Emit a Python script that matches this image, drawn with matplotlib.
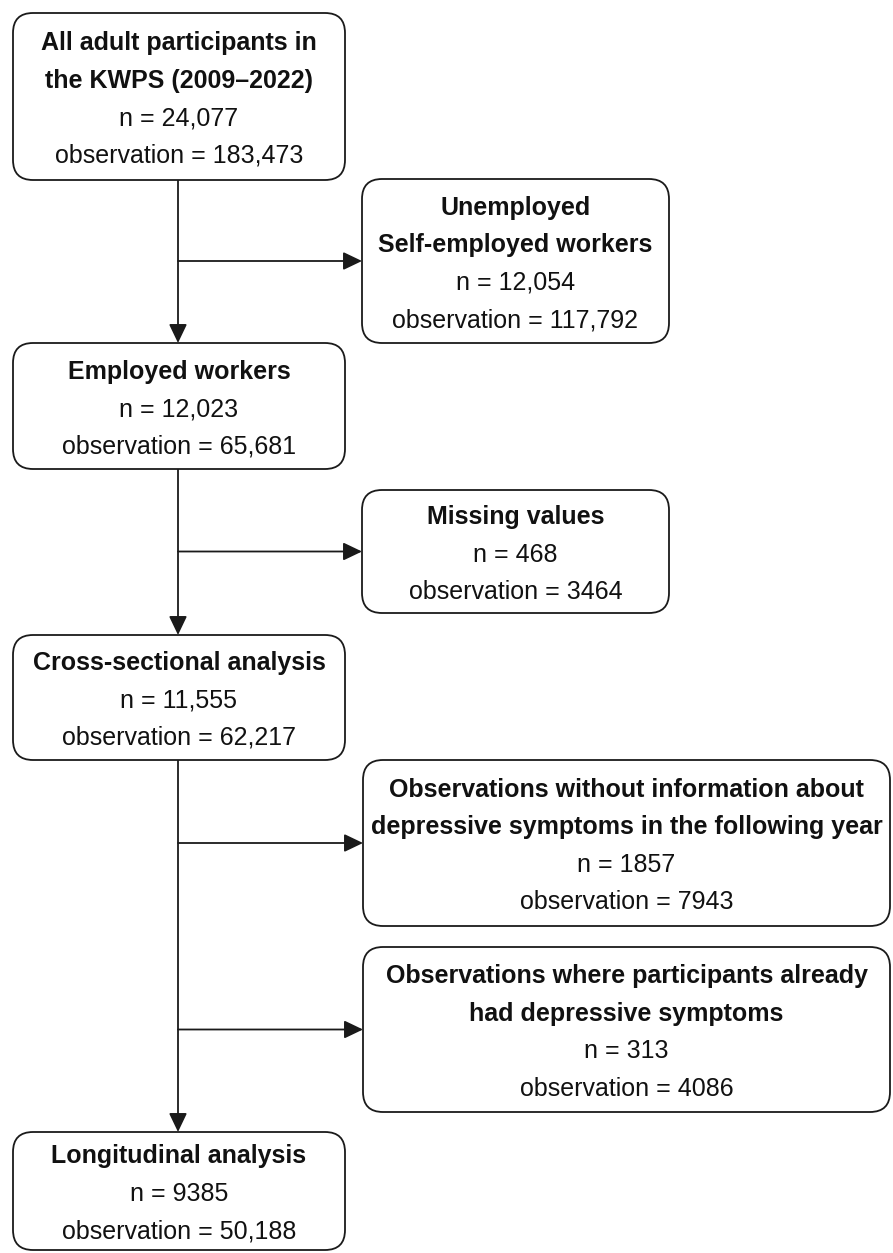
import matplotlib
matplotlib.use('Agg')
import matplotlib.pyplot as plt
from matplotlib.patches import FancyBboxPatch, FancyArrowPatch

plt.rcParams['font.family'] = ['Liberation Sans', 'DejaVu Sans']

# main flow (left column)
main_titles = [['All adult participants in', 'the KWPS (2009\u20132022)'],
               ['Employed workers'],
               ['Cross-sectional analysis'],
               ['Longitudinal analysis']]
main_n = ['24,077', '12,023', '11,555', '9385']
main_obs = ['183,473', '65,681', '62,217', '50,188']

# exclusions (right column)
excl_titles = [['Unemployed', 'Self-employed workers'],
               ['Missing values'],
               ['Observations without information about',
                'depressive symptoms in the following year'],
               ['Observations where participants already',
                'had depressive symptoms']]
excl_n = ['12,054', '468', '1857', '313']
excl_obs = ['117,792', '3464', '7943', '4086']

# layout in pixels: x0, x1, y0, y1 (y goes down)
main_boxes = [(13, 345, 13, 180), (13, 345, 343, 469),
              (13, 345, 635, 760), (13, 345, 1132, 1250)]
excl_boxes = [(362, 669, 179, 343), (362, 669, 490, 613),
              (363, 890, 760, 926), (363, 890, 947, 1112)]
TRUNK = 178
EC = '#1a1a1a'
LW = 1.3
FS = 18
LINE = 37.5

fig = plt.figure(figsize=(8.93, 12.53), dpi=100)
ax = fig.add_axes([0, 0, 1, 1])
ax.set_xlim(0, 893)
ax.set_ylim(1253, 0)
ax.axis('off')


def draw_box(b, title, n, obs):
    x0, x1, y0, y1 = b
    ax.add_patch(FancyBboxPatch((x0, y0), x1 - x0, y1 - y0,
                                boxstyle='round,pad=0,rounding_size=20',
                                fc='white', ec=EC, lw=LW, zorder=2))
    lines = [(t, 'bold') for t in title]
    lines += [('n = ' + n, 'normal'), ('observation = ' + obs, 'normal')]
    yc = (y0 + y1) / 2 + 3
    for i, (t, w) in enumerate(lines):
        y = yc + (i - (len(lines) - 1) / 2) * LINE
        ax.text((x0 + x1) / 2, y, t, ha='center', va='center',
                fontsize=FS, fontweight=w, color='#111111', zorder=3)


def arrow(p, q):
    ax.add_patch(FancyArrowPatch(p, q, arrowstyle='-|>,head_length=1.15,head_width=0.55',
                                 mutation_scale=10, shrinkA=0, shrinkB=0,
                                 color=EC, lw=LW, zorder=1))


for b, t, n, o in zip(main_boxes, main_titles, main_n, main_obs):
    draw_box(b, t, n, o)
for b, t, n, o in zip(excl_boxes, excl_titles, excl_n, excl_obs):
    draw_box(b, t, n, o)

# trunk arrows between main boxes
for a, b in zip(main_boxes[:-1], main_boxes[1:]):
    arrow((TRUNK, a[3]), (TRUNK, b[2]))

# side arrows to exclusion boxes
for b in excl_boxes:
    arrow((TRUNK, (b[2] + b[3]) / 2), (b[0], (b[2] + b[3]) / 2))

fig.savefig('out.png', dpi=100, facecolor='white')
